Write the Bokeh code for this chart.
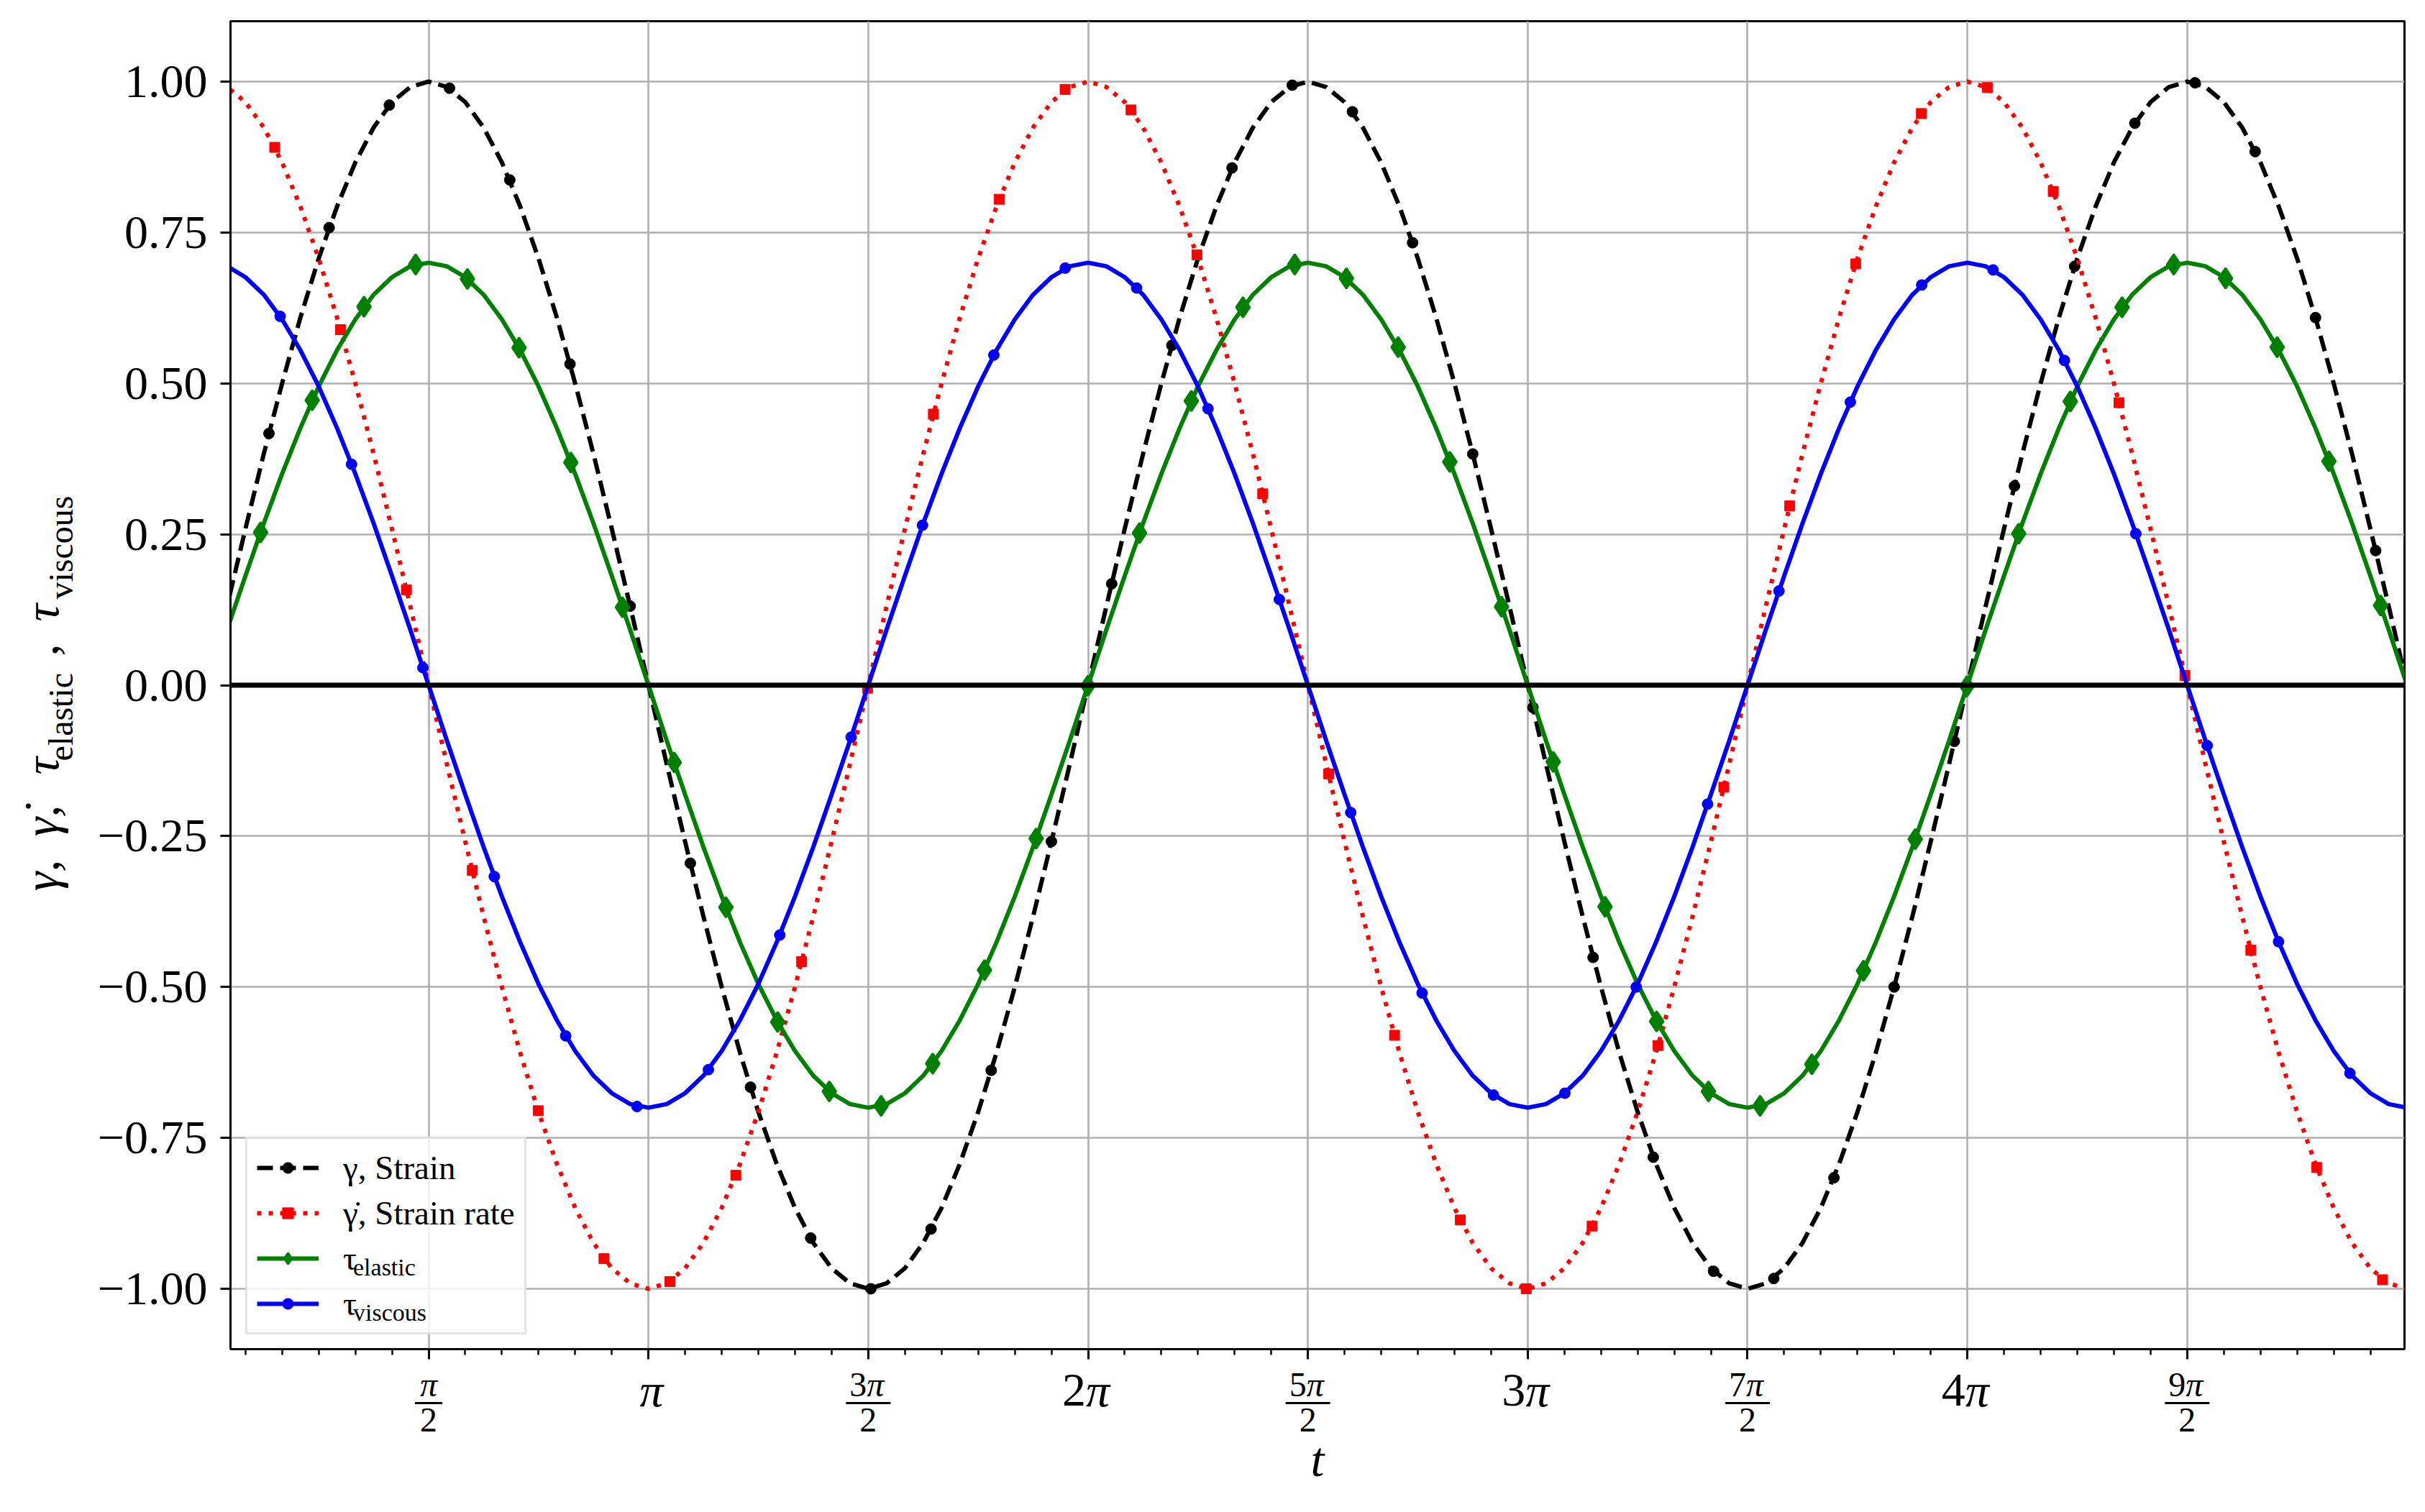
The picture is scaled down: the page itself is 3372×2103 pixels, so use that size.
import math

import numpy as np
from bokeh.plotting import figure
from bokeh.layouts import row, column
from bokeh.models import Range1d, FixedTicker, Span, Legend, LegendItem
from bokeh.core.properties import value
from bokeh.embed import file_html
from bokeh.resources import INLINE

FONT = "Liberation Serif"

# sample grid of the curves, 0 .. 5*pi in steps of pi/24
t_line = np.linspace(0, 5 * np.pi, 121)

strain = [
    0.000, 0.131, 0.259, 0.383, 0.500, 0.609, 0.707, 0.793, 0.866, 0.924, 0.966, 0.991, 1.000,
    0.991, 0.966, 0.924, 0.866, 0.793, 0.707, 0.609, 0.500, 0.383, 0.259, 0.131, 0.000,
    -0.131, -0.259, -0.383, -0.500, -0.609, -0.707, -0.793, -0.866, -0.924, -0.966, -0.991, -1.000,
    -0.991, -0.966, -0.924, -0.866, -0.793, -0.707, -0.609, -0.500, -0.383, -0.259, -0.131, 0.000,
    0.131, 0.259, 0.383, 0.500, 0.609, 0.707, 0.793, 0.866, 0.924, 0.966, 0.991, 1.000,
    0.991, 0.966, 0.924, 0.866, 0.793, 0.707, 0.609, 0.500, 0.383, 0.259, 0.131, 0.000,
    -0.131, -0.259, -0.383, -0.500, -0.609, -0.707, -0.793, -0.866, -0.924, -0.966, -0.991, -1.000,
    -0.991, -0.966, -0.924, -0.866, -0.793, -0.707, -0.609, -0.500, -0.383, -0.259, -0.131, 0.000,
    0.131, 0.259, 0.383, 0.500, 0.609, 0.707, 0.793, 0.866, 0.924, 0.966, 0.991, 1.000,
    0.991, 0.966, 0.924, 0.866, 0.793, 0.707, 0.609, 0.500, 0.383, 0.259, 0.131, 0.000,
]
strain_rate = [
    1.000, 0.991, 0.966, 0.924, 0.866, 0.793, 0.707, 0.609, 0.500, 0.383, 0.259, 0.131, 0.000,
    -0.131, -0.259, -0.383, -0.500, -0.609, -0.707, -0.793, -0.866, -0.924, -0.966, -0.991, -1.000,
    -0.991, -0.966, -0.924, -0.866, -0.793, -0.707, -0.609, -0.500, -0.383, -0.259, -0.131, 0.000,
    0.131, 0.259, 0.383, 0.500, 0.609, 0.707, 0.793, 0.866, 0.924, 0.966, 0.991, 1.000,
    0.991, 0.966, 0.924, 0.866, 0.793, 0.707, 0.609, 0.500, 0.383, 0.259, 0.131, 0.000,
    -0.131, -0.259, -0.383, -0.500, -0.609, -0.707, -0.793, -0.866, -0.924, -0.966, -0.991, -1.000,
    -0.991, -0.966, -0.924, -0.866, -0.793, -0.707, -0.609, -0.500, -0.383, -0.259, -0.131, 0.000,
    0.131, 0.259, 0.383, 0.500, 0.609, 0.707, 0.793, 0.866, 0.924, 0.966, 0.991, 1.000,
    0.991, 0.966, 0.924, 0.866, 0.793, 0.707, 0.609, 0.500, 0.383, 0.259, 0.131, 0.000,
    -0.131, -0.259, -0.383, -0.500, -0.609, -0.707, -0.793, -0.866, -0.924, -0.966, -0.991, -1.000,
]
tau_elastic = [
    0.000, 0.092, 0.181, 0.268, 0.350, 0.426, 0.495, 0.555, 0.606, 0.647, 0.676, 0.694, 0.700,
    0.694, 0.676, 0.647, 0.606, 0.555, 0.495, 0.426, 0.350, 0.268, 0.181, 0.092, 0.000,
    -0.092, -0.181, -0.268, -0.350, -0.426, -0.495, -0.555, -0.606, -0.647, -0.676, -0.694, -0.700,
    -0.694, -0.676, -0.647, -0.606, -0.555, -0.495, -0.426, -0.350, -0.268, -0.181, -0.092, 0.000,
    0.092, 0.181, 0.268, 0.350, 0.426, 0.495, 0.555, 0.606, 0.647, 0.676, 0.694, 0.700,
    0.694, 0.676, 0.647, 0.606, 0.555, 0.495, 0.426, 0.350, 0.268, 0.181, 0.092, 0.000,
    -0.092, -0.181, -0.268, -0.350, -0.426, -0.495, -0.555, -0.606, -0.647, -0.676, -0.694, -0.700,
    -0.694, -0.676, -0.647, -0.606, -0.555, -0.495, -0.426, -0.350, -0.268, -0.181, -0.092, 0.000,
    0.092, 0.181, 0.268, 0.350, 0.426, 0.495, 0.555, 0.606, 0.647, 0.676, 0.694, 0.700,
    0.694, 0.676, 0.647, 0.606, 0.555, 0.495, 0.426, 0.350, 0.268, 0.181, 0.092, 0.000,
]
tau_viscous = [
    0.700, 0.694, 0.676, 0.647, 0.606, 0.555, 0.495, 0.426, 0.350, 0.268, 0.181, 0.092, 0.000,
    -0.092, -0.181, -0.268, -0.350, -0.426, -0.495, -0.555, -0.606, -0.647, -0.676, -0.694, -0.700,
    -0.694, -0.676, -0.647, -0.606, -0.555, -0.495, -0.426, -0.350, -0.268, -0.181, -0.092, 0.000,
    0.092, 0.181, 0.268, 0.350, 0.426, 0.495, 0.555, 0.606, 0.647, 0.676, 0.694, 0.700,
    0.694, 0.676, 0.647, 0.606, 0.555, 0.495, 0.426, 0.350, 0.268, 0.181, 0.092, 0.000,
    -0.092, -0.181, -0.268, -0.350, -0.426, -0.495, -0.555, -0.606, -0.647, -0.676, -0.694, -0.700,
    -0.694, -0.676, -0.647, -0.606, -0.555, -0.495, -0.426, -0.350, -0.268, -0.181, -0.092, 0.000,
    0.092, 0.181, 0.268, 0.350, 0.426, 0.495, 0.555, 0.606, 0.647, 0.676, 0.694, 0.700,
    0.694, 0.676, 0.647, 0.606, 0.555, 0.495, 0.426, 0.350, 0.268, 0.181, 0.092, 0.000,
    -0.092, -0.181, -0.268, -0.350, -0.426, -0.495, -0.555, -0.606, -0.647, -0.676, -0.694, -0.700,
]

# marker points
strain_mk_t = [0.430, 0.860, 1.290, 1.720, 2.151, 2.581, 3.011, 3.441, 3.871, 4.301, 4.731, 5.161,
               5.591, 6.021, 6.452, 6.882, 7.312, 7.742, 8.172, 8.602, 9.032, 9.462, 9.892, 10.322,
               10.753, 11.183, 11.613, 12.043, 12.473, 12.903, 13.333, 13.763, 14.193, 14.623,
               15.054, 15.484]
strain_mk_y = [0.417, 0.758, 0.961, 0.989, 0.837, 0.532, 0.131, -0.295, -0.666, -0.916, -1.000, -0.901,
               -0.638, -0.259, 0.168, 0.563, 0.857, 0.994, 0.950, 0.733, 0.383, -0.037, -0.451, -0.782,
               -0.971, -0.983, -0.816, -0.500, -0.093, 0.330, 0.694, 0.931, 0.998, 0.884, 0.609, 0.223]

rate_mk_t = [0.471, 0.941, 1.412, 1.883, 2.354, 2.824, 3.295, 3.766, 4.236, 4.707, 5.178, 5.648,
             6.119, 6.590, 7.061, 7.531, 8.002, 8.473, 8.943, 9.414, 9.885, 10.355, 10.826, 11.297,
             11.768, 12.238, 12.709, 13.180, 13.650, 14.121, 14.592, 15.062, 15.533]
rate_mk_y = [0.891, 0.589, 0.158, -0.307, -0.705, -0.950, -0.988, -0.812, -0.458, -0.005, 0.449, 0.805,
             0.987, 0.953, 0.713, 0.317, -0.147, -0.580, -0.886, -1.000, -0.896, -0.597, -0.169, 0.297,
             0.698, 0.947, 0.990, 0.818, 0.468, 0.016, -0.439, -0.799, -0.985]

elastic_mk_t = [0.370, 0.739, 1.109, 1.478, 1.848, 2.217, 2.587, 2.956, 3.326, 3.695, 4.065, 4.434,
                4.804, 5.173, 5.543, 5.912, 6.282, 6.651, 7.021, 7.390, 7.760, 8.129, 8.499, 8.868,
                9.238, 9.607, 9.977, 10.346, 10.716, 11.085, 11.455, 11.824, 12.194, 12.563, 12.933,
                13.302, 13.672, 14.041, 14.411, 14.780, 15.150, 15.519]
elastic_mk_y = [0.253, 0.472, 0.627, 0.697, 0.673, 0.559, 0.369, 0.129, -0.128, -0.368, -0.558, -0.673,
                -0.697, -0.627, -0.472, -0.254, -0.001, 0.252, 0.471, 0.626, 0.697, 0.674, 0.560, 0.370,
                0.130, -0.127, -0.367, -0.557, -0.673, -0.697, -0.628, -0.473, -0.255, -0.002, 0.251,
                0.470, 0.626, 0.697, 0.674, 0.560, 0.371, 0.132]

viscous_mk_t = [0.510, 1.020, 1.530, 2.040, 2.550, 3.060, 3.570, 4.080, 4.590, 5.100, 5.610, 6.120,
                6.630, 7.140, 7.650, 8.160, 8.670, 9.180, 9.690, 10.200, 10.710, 11.220, 11.730,
                12.240, 12.750, 13.260, 13.770, 14.280, 14.790, 15.300]
viscous_mk_y = [0.611, 0.366, 0.029, -0.317, -0.581, -0.698, -0.637, -0.414, -0.086, 0.265, 0.547, 0.691,
                0.658, 0.458, 0.142, -0.211, -0.510, -0.679, -0.676, -0.500, -0.197, 0.156, 0.469,
                0.663, 0.688, 0.538, 0.251, -0.100, -0.425, -0.643]

# ticks
x_tick_mult = [1, 2, 3, 4, 5, 6, 7, 8, 9]          # multiples of pi/2
x_tick_labels = ["π/2", "π", "3π/2", "2π", "5π/2", "3π", "7π/2", "4π", "9π/2"]
y_ticks = [-1.0, -0.75, -0.5, -0.25, 0.0, 0.25, 0.5, 0.75, 1.0]
y_tick_labels = ["−1.00", "−0.75", "−0.50", "−0.25", "0.00", "0.25", "0.50", "0.75", "1.00"]

x_major = [m * math.pi / 2 for m in x_tick_mult]
x_minor = [k * math.pi / 12 for k in range(1, 60)]

LEFT_W = 115      # strip holding the rotated y label
MAIN_W = 3241
MAIN_H = 1892
BELOW_H = 203

x_range = Range1d(0.155, 15.69)

# ---------------- main plot ----------------
p = figure(width=MAIN_W, height=MAIN_H, x_range=x_range, y_range=Range1d(-1.1, 1.1),
           output_backend="svg", toolbar_location=None, tools="", title=None,
           min_border_left=205, min_border_right=13, min_border_top=29, min_border_bottom=16)
p.background_fill_color = "white"
p.border_fill_color = "white"
p.outline_line_color = "black"
p.outline_line_width = 3

for ax in (p.xaxis, p.yaxis):
    ax.axis_line_width = 3
    ax.major_tick_line_width = 3
    ax.major_tick_out = 14
    ax.major_tick_in = 0
    ax.minor_tick_out = 8
    ax.minor_tick_in = 0
    ax.minor_tick_line_width = 2.4

p.xaxis.ticker = FixedTicker(ticks=x_major, minor_ticks=x_minor)
p.xaxis.major_label_overrides = {v: "" for v in x_major}
p.xaxis.major_label_text_font_size = "1px"
p.xaxis.major_label_standoff = 0
p.yaxis.ticker = FixedTicker(ticks=y_ticks, minor_ticks=[])
p.yaxis.major_label_overrides = dict(zip(y_ticks, y_tick_labels))
p.yaxis.major_label_text_font = FONT
p.yaxis.major_label_text_font_size = "66px"
p.yaxis.major_label_text_color = "black"
p.yaxis.major_label_standoff = 18
p.yaxis.minor_tick_line_color = None

for g in (p.xgrid, p.ygrid):
    g.grid_line_color = "#b0b0b0"
    g.grid_line_width = 2.6

r1 = p.line(t_line, strain, line_color="black", line_width=6, line_dash="22 10")
m1 = p.scatter(strain_mk_t, strain_mk_y, marker="circle", size=15, color="black")
r2 = p.line(t_line, strain_rate, line_color="red", line_width=6, line_dash="6 10")
m2 = p.scatter(rate_mk_t, rate_mk_y, marker="square", size=14, color="red")
r3 = p.line(t_line, tau_elastic, line_color="green", line_width=6)
m3 = p.scatter(elastic_mk_t, elastic_mk_y, marker="diamond", size=28, color="green", line_width=3)
r4 = p.line(t_line, tau_viscous, line_color="blue", line_width=6)
m4 = p.scatter(viscous_mk_t, viscous_mk_y, marker="circle", size=15, color="blue")

p.add_layout(Span(location=0, dimension="width", line_color="black", line_width=7))

legend = Legend(items=[
    LegendItem(label="γ, Strain", renderers=[r1, m1]),
    LegendItem(label="γ̇, Strain rate", renderers=[r2, m2]),
    LegendItem(label="τ", renderers=[r3, m3]),
    LegendItem(label="τ", renderers=[r4, m4]),
], location=(21, 20), margin=0, padding=13, spacing=9, glyph_width=86, glyph_height=38,
    label_height=54, label_standoff=34, label_text_font=FONT, label_text_font_size="47px",
    label_text_color="black",
    border_line_color="#cccccc", border_line_width=3, background_fill_alpha=0.8)
p.add_layout(legend)

# subscripts of the last two legend entries: a second, frameless legend on top
ghost = p.line([], [], line_alpha=0)
sub_legend = Legend(items=[
    LegendItem(label="elastic", renderers=[ghost]),
    LegendItem(label="viscous", renderers=[ghost]),
], location=(171, 23), margin=0, padding=0, spacing=9, glyph_width=0, glyph_height=1,
    label_height=54, label_standoff=0, label_text_font=FONT, label_text_font_size="34px",
    label_text_color="black", border_line_color=None, background_fill_alpha=0)
p.add_layout(sub_legend)

# ---------------- strip below: x tick labels and x label ----------------
b = figure(width=MAIN_W, height=BELOW_H, x_range=x_range, y_range=Range1d(0, BELOW_H),
           output_backend="svg", toolbar_location=None, tools="", title=None,
           x_axis_location=None, y_axis_location=None,
           min_border_left=205, min_border_right=13, min_border_top=0, min_border_bottom=0)
b.outline_line_color = None
b.grid.visible = False
b.background_fill_color = "white"
b.border_fill_color = "white"

int_x, int_d, frac_x, frac_d, lone_int, lone_frac = [], [], [], [], [], []
for xv, lab in zip(x_major, x_tick_labels):
    num = lab.split("/")[0].replace("π", "")
    if lab.endswith("/2"):
        if num:
            frac_x.append(xv)
            frac_d.append(num)
        else:
            lone_frac.append(xv)
    else:
        if num:
            int_x.append(xv)
            int_d.append(num)
        else:
            lone_int.append(xv)
odd_x = frac_x + lone_frac
bar_w = [62] * len(frac_x) + [38] * len(lone_frac)

txt_kw = dict(text_font=value(FONT), text_baseline="middle", text_color="black")
# whole multiples
b.text(int_x, [162] * len(int_x), text=int_d, text_align="right", x_offset=-3,
       text_font_size="66px", **txt_kw)
b.text(int_x, [162] * len(int_x), text=["π"] * len(int_x), text_align="left", x_offset=-3,
       text_font_size="66px", text_font_style="italic", **txt_kw)
b.text(lone_int, [162] * len(lone_int), text=["π"] * len(lone_int), text_align="center",
       x_offset=4, text_font_size="66px", text_font_style="italic", **txt_kw)
# fractions
b.text(frac_x, [170] * len(frac_x), text=frac_d, text_align="right", x_offset=-2,
       text_font_size="48px", **txt_kw)
b.text(frac_x, [170] * len(frac_x), text=["π"] * len(frac_x), text_align="left", x_offset=-2,
       text_font_size="48px", text_font_style="italic", **txt_kw)
b.text(lone_frac, [170] * len(lone_frac), text=["π"] * len(lone_frac), text_align="center",
       text_font_size="48px", text_font_style="italic", **txt_kw)
b.rect(odd_x, [144] * len(odd_x), width=bar_w, height=3, width_units="screen",
       height_units="screen", fill_color="black", line_color=None)
b.text(odd_x, [121] * len(odd_x), text=["2"] * len(odd_x), text_align="center",
       text_font_size="48px", **txt_kw)
# axis label
b.text([(x_range.start + x_range.end) / 2], [66], text=["t"], text_align="center",
       text_font_size="68px", text_font_style="italic", **txt_kw)

# ---------------- strip left: rotated y label ----------------
c = figure(width=LEFT_W, height=MAIN_H + BELOW_H, x_range=Range1d(0, LEFT_W),
           y_range=Range1d(0, MAIN_H + BELOW_H), output_backend="svg", toolbar_location=None,
           tools="", title=None, x_axis_location=None, y_axis_location=None,
           min_border_left=0, min_border_right=0, min_border_top=0, min_border_bottom=0)
c.outline_line_color = None
c.grid.visible = False
c.background_fill_color = "white"
c.border_fill_color = "white"

ylabel_main = ["γ,", "γ̇,", "τ", ",", "τ"]
ylabel_main_pos = [856, 932, 1018, 1183, 1231]
ylabel_main_style = ["italic", "italic", "italic", "normal", "italic"]
ylabel_sub = ["elastic", "viscous"]
ylabel_sub_pos = [1037, 1262]

for txt, yy, st in zip(ylabel_main, ylabel_main_pos, ylabel_main_style):
    c.text([57], [yy], text=[txt], angle=math.pi / 2, text_align="left",
           text_font_size="68px", text_font_style=st, **txt_kw)
c.text([84] * 2, ylabel_sub_pos, text=ylabel_sub, angle=math.pi / 2, text_align="left",
       text_font_size="48px", **txt_kw)

layout = row(c, column(p, b))

open("out.html", "w").write(file_html(layout, INLINE))
